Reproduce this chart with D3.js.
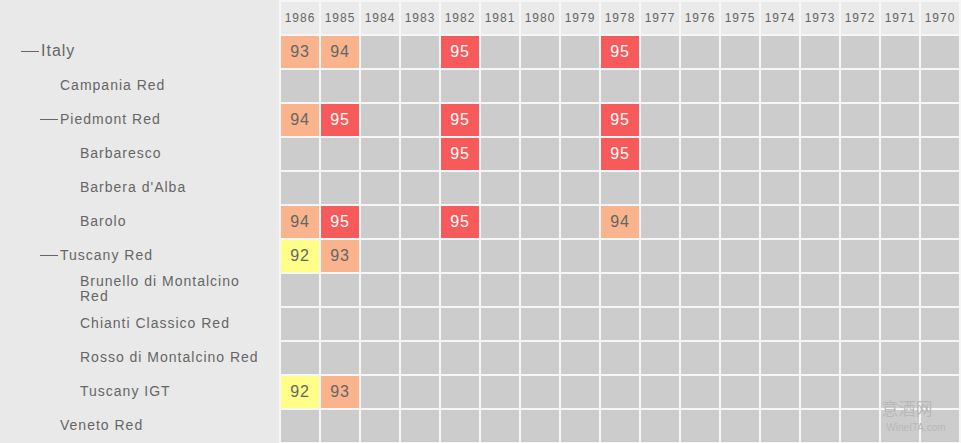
<!DOCTYPE html>
<html>
<head>
<meta charset="utf-8">
<script src="https://cdn.jsdelivr.net/npm/d3@7"></script>
<style>
  html, body { margin: 0; padding: 0; background: #e9e9e9; overflow: hidden; }
  svg { display: block; font-family: "Liberation Sans", Arial, sans-serif; }
</style>
</head>
<body>
<svg id="chart" width="961" height="443"></svg>
<script>
// ---- data ----
const years = ["1986","1985","1984","1983","1982","1981","1980","1979","1978","1977","1976","1975","1974","1973","1972","1971","1970"];
const regions = ["Italy","Campania Red","Piedmont Red","Barbaresco","Barbera d'Alba","Barolo","Tuscany Red","Brunello di Montalcino Red","Chianti Classico Red","Rosso di Montalcino Red","Tuscany IGT","Veneto Red"];
const levels = [0, 1, 1, 2, 2, 2, 1, 2, 2, 2, 2, 1];
const expanded = [true, false, true, false, false, false, true, false, false, false, false, false];
const scores = [
  {region: "Italy", year: "1986", value: 93},
  {region: "Italy", year: "1985", value: 94},
  {region: "Italy", year: "1982", value: 95},
  {region: "Italy", year: "1978", value: 95},
  {region: "Piedmont Red", year: "1986", value: 94},
  {region: "Piedmont Red", year: "1985", value: 95},
  {region: "Piedmont Red", year: "1982", value: 95},
  {region: "Piedmont Red", year: "1978", value: 95},
  {region: "Barbaresco", year: "1982", value: 95},
  {region: "Barbaresco", year: "1978", value: 95},
  {region: "Barolo", year: "1986", value: 94},
  {region: "Barolo", year: "1985", value: 95},
  {region: "Barolo", year: "1982", value: 95},
  {region: "Barolo", year: "1978", value: 94},
  {region: "Tuscany Red", year: "1986", value: 92},
  {region: "Tuscany Red", year: "1985", value: 93},
  {region: "Tuscany IGT", year: "1986", value: 92},
  {region: "Tuscany IGT", year: "1985", value: 93}
];
const scoreLevels = [92, 93, 94, 95];
const scoreColors = ["#ffff88", "#f9b38d", "#f9b38d", "#f75a5a"];

// ---- layout ----
const W = 961, H = 443;
const svg = d3.select("#chart");
const gap = 2;

const x = d3.scaleBand().domain(years).range([279, 959]).padding(0);
const y = d3.scaleBand().domain(["__header__"].concat(regions)).range([0, 442]).padding(0);
const color = d3.scaleOrdinal().domain(scoreLevels).range(scoreColors);

// light background behind the grid (forms the gaps)
svg.append("rect").attr("x", 279).attr("y", 0).attr("width", W - 279).attr("height", H).attr("fill", "#f6f6f6");

// header cells
const header = svg.append("g");
header.selectAll("rect").data(years).join("rect")
  .attr("x", d => x(d) + gap).attr("y", y("__header__") + gap)
  .attr("width", x.bandwidth() - gap).attr("height", y.bandwidth() - gap)
  .attr("fill", "#eaeaea");
header.selectAll("text").data(years).join("text")
  .attr("x", d => x(d) + gap + (x.bandwidth() - gap) / 2)
  .attr("y", y("__header__") + gap + (y.bandwidth() - gap) / 2)
  .attr("dy", "0.33em").attr("text-anchor", "middle")
  .attr("font-size", 12).attr("letter-spacing", 1).attr("fill", "#666")
  .text(d => d);

// body cells
const lookup = new Map(scores.map(s => [s.region + "|" + s.year, s.value]));
const cells = [];
regions.forEach(r => years.forEach(yr => cells.push({region: r, year: yr, value: lookup.get(r + "|" + yr)})));

const body = svg.append("g");
body.selectAll("rect").data(cells).join("rect")
  .attr("x", d => x(d.year) + gap).attr("y", d => y(d.region) + gap)
  .attr("width", x.bandwidth() - gap).attr("height", y.bandwidth() - gap)
  .attr("fill", d => d.value == null ? "#cccccc" : color(d.value));
body.selectAll("text").data(cells.filter(d => d.value != null)).join("text")
  .attr("x", d => x(d.year) + gap + (x.bandwidth() - gap) / 2)
  .attr("y", d => y(d.region) + gap + (y.bandwidth() - gap) / 2)
  .attr("dy", "0.32em").attr("text-anchor", "middle")
  .attr("font-size", 16).attr("letter-spacing", 0.8)
  .attr("fill", d => d.value >= 95 ? "#ffffff" : "#666")
  .text(d => d.value);

// row labels
const labels = svg.append("g");
const maxRight = 272;
regions.forEach((r, i) => {
  const lvl = levels[i];
  const tx = 40 + lvl * 20 + (lvl === 0 ? 1 : 0);
  const cy = y(r) + gap + (y.bandwidth() - gap) / 2;
  const fs = lvl === 0 ? 16 : 14;
  if (expanded[i]) {
    labels.append("line")
      .attr("x1", tx - 20).attr("x2", tx - 2)
      .attr("y1", cy - 0.5).attr("y2", cy - 0.5)
      .attr("stroke", "#666").attr("stroke-width", 1);
  }
  const t = labels.append("text")
    .attr("x", tx).attr("y", cy).attr("dy", "0.28em")
    .attr("font-size", fs).attr("letter-spacing", 1).attr("fill", "#666")
    .text(r);
  if (t.node().getComputedTextLength() > maxRight - tx) {
    // wrap words into lines
    const words = r.split(" ");
    const lines = [];
    let cur = [];
    t.text(null);
    const probe = t.append("tspan");
    words.forEach(w => {
      const test = cur.concat([w]).join(" ");
      probe.text(test);
      if (probe.node().getComputedTextLength() > maxRight - tx && cur.length) {
        lines.push(cur.join(" "));
        cur = [w];
      } else cur.push(w);
    });
    lines.push(cur.join(" "));
    probe.remove();
    const lh = 15;
    const start = -((lines.length - 1) * lh) / 2;
    lines.forEach((ln, k) => {
      t.append("tspan").attr("x", tx).attr("y", cy + start + k * lh).attr("dy", "0.28em").text(ln);
    });
  }
});

// watermark
svg.append("text").attr("x", 907).attr("y", 415).attr("text-anchor", "middle")
  .attr("font-family", "'Noto Sans CJK SC', sans-serif").attr("font-size", 17)
  .attr("fill", "#b8b8b8").text("意酒网");
svg.append("text").attr("x", 916).attr("y", 431).attr("text-anchor", "middle")
  .attr("font-size", 10).attr("fill", "#b8b8b8").text("WineITA.com");
</script>
</body>
</html>
